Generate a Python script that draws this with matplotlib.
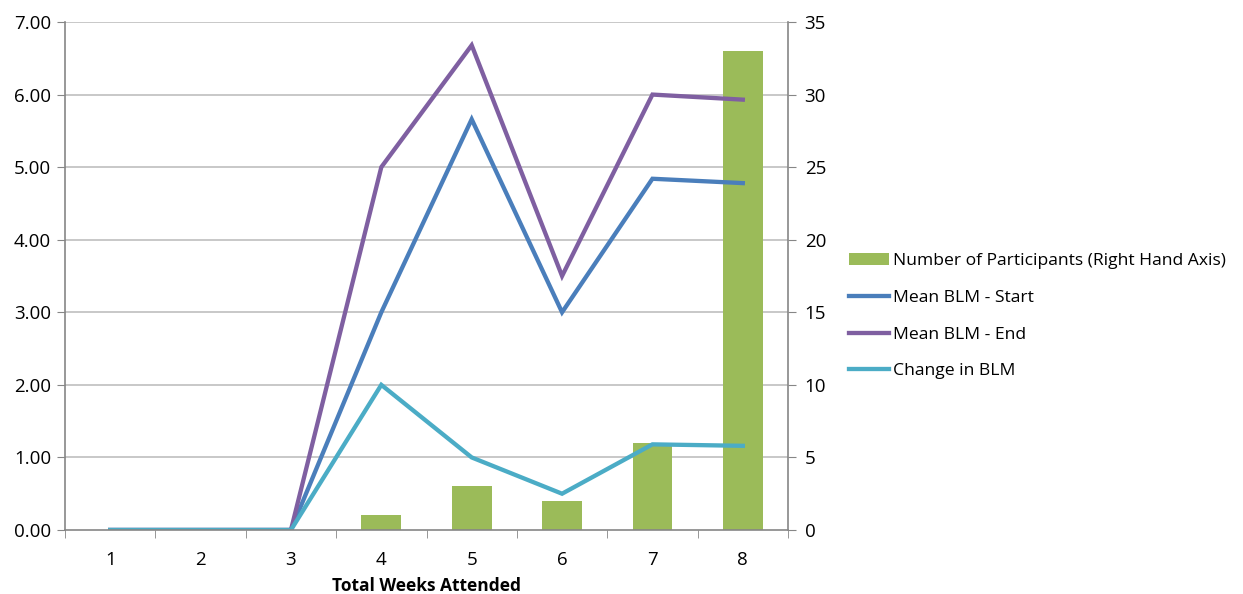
import matplotlib
matplotlib.use("Agg")
import matplotlib.pyplot as plt
from matplotlib.patches import Patch
from matplotlib.lines import Line2D

weeks = [1, 2, 3, 4, 5, 6, 7, 8]
participants = [0, 0, 0, 1, 3, 2, 6, 33]
mean_start = [0, 0, 0, 3.0, 5.66, 3.0, 4.84, 4.78]
mean_end = [0, 0, 0, 5.0, 6.68, 3.5, 6.0, 5.93]
change = [0, 0, 0, 2.0, 1.0, 0.5, 1.18, 1.16]

left_ticks = [0, 1, 2, 3, 4, 5, 6, 7]
right_ticks = [0, 5, 10, 15, 20, 25, 30, 35]

c_green = "#9BBB59"
c_blue = "#4A7EBB"
c_purple = "#7F5FA1"
c_cyan = "#4BACC6"
grid_c = "#BFBFBF"
spine_c = "#868686"

plt.rcParams['font.family'] = ['Open Sans', 'DejaVu Sans']

fig = plt.figure(figsize=(12.43, 5.94), dpi=100)
ax = fig.add_axes([65/1243, 1 - 530/594, (788-65)/1243, (530-22)/594])
ax2 = ax.twinx()

ax2.set_zorder(0)
ax.set_zorder(1)
ax.patch.set_visible(False)

ax2.bar(weeks, participants, width=0.44, color=c_green, zorder=2)
ax2.set_ylim(0, 35)
ax2.set_yticks(right_ticks)
ax2.set_yticklabels([str(t) for t in right_ticks], fontsize=13.5)

lw = 3.1
ax.plot(weeks, mean_start, color=c_blue, lw=lw, solid_joinstyle='miter')
ax.plot(weeks, mean_end, color=c_purple, lw=lw, solid_joinstyle='miter')
ax.plot(weeks, change, color=c_cyan, lw=lw, solid_joinstyle='miter')

ax.set_ylim(0, 7)
ax.set_xlim(0.5, 8.5)
ax.set_yticks(left_ticks)
ax.set_yticklabels([f"{t:.2f}" for t in left_ticks], fontsize=13.5)
ax.set_xticks(weeks)
ax.set_xticklabels([str(w) for w in weeks], fontsize=13.5)
ax.tick_params(axis='x', length=0, pad=15)
ax.set_xticks([w + 0.5 for w in [0] + weeks], minor=True)
ax.tick_params(axis='x', which='minor', length=6, color=spine_c, direction='out')
ax.tick_params(axis='y', length=6, color=spine_c, direction='out', pad=4)
ax2.tick_params(axis='y', length=6, color=spine_c, direction='out', pad=6)

for t in left_ticks[1:]:
    ax2.axhline(t * 5, color=grid_c, lw=1.2, zorder=1)

for a in (ax, ax2):
    a.spines['top'].set_visible(False)
    for s in ('left', 'right', 'bottom'):
        a.spines[s].set_color(spine_c)
        a.spines[s].set_linewidth(1.2)
ax.spines['right'].set_visible(False)
ax2.spines['left'].set_visible(False)
ax2.spines['bottom'].set_visible(False)

fig.text(426/1243, 1 - 586/594, "Total Weeks Attended", fontsize=12.5,
         fontweight='bold', ha='center', va='center')

handles = [Patch(facecolor=c_green, edgecolor='none'),
           Line2D([], [], color=c_blue, lw=lw),
           Line2D([], [], color=c_purple, lw=lw),
           Line2D([], [], color=c_cyan, lw=lw)]
labels = ["Number of Participants (Right Hand Axis)", "Mean BLM - Start",
          "Mean BLM - End", "Change in BLM"]
fig.legend(handles, labels, loc='upper left', bbox_to_anchor=(842/1243, 1 - 246/594),
           frameon=False, fontsize=12.6, handlelength=2.3, handletextpad=0.2,
           labelspacing=1.17, borderaxespad=0)

fig.savefig("out.png", dpi=100)
